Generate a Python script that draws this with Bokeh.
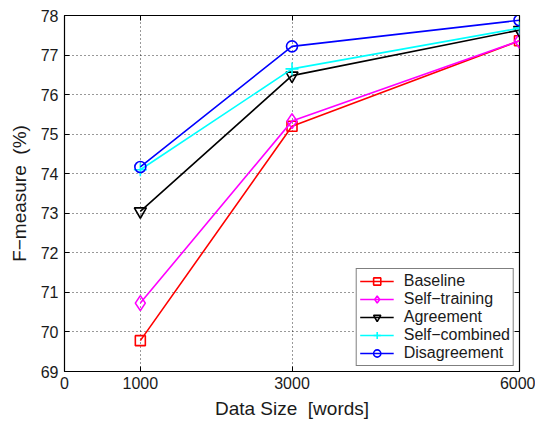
from bokeh.plotting import figure
from bokeh.models import FixedTicker, LinearAxis, Range1d, CustomLabelingPolicy
from bokeh.embed import file_html
from bokeh.resources import INLINE

# Training data sizes (words)
sizes = [1000, 3000, 6000]

# F-measure (%) for each method
baseline = [69.78, 75.20, 77.36]
self_training = [70.73, 75.33, 77.36]
agreement = [73.05, 76.48, 77.63]
self_combined = [74.10, 76.65, 77.68]
disagreement = [74.17, 77.22, 77.88]

x_ticks = [0, 1000, 3000, 6000]
y_ticks = [69, 70, 71, 72, 73, 74, 75, 76, 77, 78]

FONT = "Liberation Sans"
NBSP = "\u00a0"

p = figure(width=535, height=421, output_backend="svg", toolbar_location=None,
           x_range=Range1d(0, 6000), y_range=Range1d(69, 78),
           min_border_left=64, min_border_right=16, min_border_top=15,
           min_border_bottom=49)

p.outline_line_color = "black"
p.outline_line_width = 1.2
p.background_fill_color = "white"
p.border_fill_color = "white"

for ax in (p.xaxis[0], p.yaxis[0]):
    ax.axis_line_color = None
    ax.major_tick_in = 5
    ax.major_tick_out = 0
    ax.minor_tick_line_color = None
    ax.major_tick_line_color = "black"
    ax.major_label_text_font = FONT
    ax.major_label_text_font_size = "16px"
    ax.major_label_text_color = "#1a1a1a"
    ax.axis_label_text_font = FONT
    ax.axis_label_text_font_size = "19px"
    ax.axis_label_text_font_style = "normal"
    ax.axis_label_text_color = "#1a1a1a"

p.xaxis.ticker = FixedTicker(ticks=x_ticks)
p.yaxis.ticker = FixedTicker(ticks=y_ticks)
p.xaxis.axis_label = "Data Size" + NBSP + NBSP + "[words]"
p.yaxis.axis_label = "F\u2212measure" + NBSP + NBSP + "(%)"
p.xaxis.major_label_standoff = 5
p.yaxis.major_label_standoff = 6
p.xaxis.axis_label_standoff = 6
p.yaxis.axis_label_standoff = 8

# inward ticks on the right and top edges, without labels
no_labels = CustomLabelingPolicy(
    code="const n = indices.size; for (let i = 0; i < n; i++) { indices.unset(i) } return indices")
for side, tks in (("right", y_ticks), ("above", x_ticks)):
    a = LinearAxis(ticker=FixedTicker(ticks=tks), major_label_policy=no_labels)
    a.axis_line_color = None
    a.major_tick_in = 5
    a.major_tick_out = 0
    a.minor_tick_line_color = None
    a.major_label_standoff = 0
    p.add_layout(a, side)

for g in (p.xgrid[0], p.ygrid[0]):
    g.grid_line_color = "black"
    g.grid_line_dash = "1 3"
    g.grid_line_width = 1
    g.grid_line_alpha = 0.8
p.xgrid.ticker = FixedTicker(ticks=[1000, 3000])
p.ygrid.ticker = FixedTicker(ticks=y_ticks[1:-1])

series = [
    ("Baseline", baseline, "#ff0000", "square", 10),
    ("Self\u2212training", self_training, "#ff00ff", "diamond", 15),
    ("Agreement", agreement, "#000000", "inverted_triangle", 12),
    ("Self\u2212combined", self_combined, "#00ffff", "cross", 13),
    ("Disagreement", disagreement, "#0000ff", "circle", 11),
]

for name, vals, color, marker, size in series:
    p.line(sizes, vals, line_color=color, line_width=1.6, legend_label=name)
    p.scatter(sizes, vals, marker=marker, size=size, line_color=color,
              line_width=1.6, fill_color=None, legend_label=name)

leg = p.legend[0]
leg.location = "bottom_right"
leg.margin = 5
leg.padding = 3
leg.spacing = 0
leg.glyph_width = 34
leg.glyph_height = 18
leg.label_height = 18
leg.label_standoff = 10
leg.label_text_font = FONT
leg.label_text_font_size = "16px"
leg.label_text_color = "#1a1a1a"
leg.border_line_color = "black"
leg.border_line_width = 1
leg.background_fill_color = "white"
leg.background_fill_alpha = 1

open("out.html", "w").write(file_html(p, INLINE))
